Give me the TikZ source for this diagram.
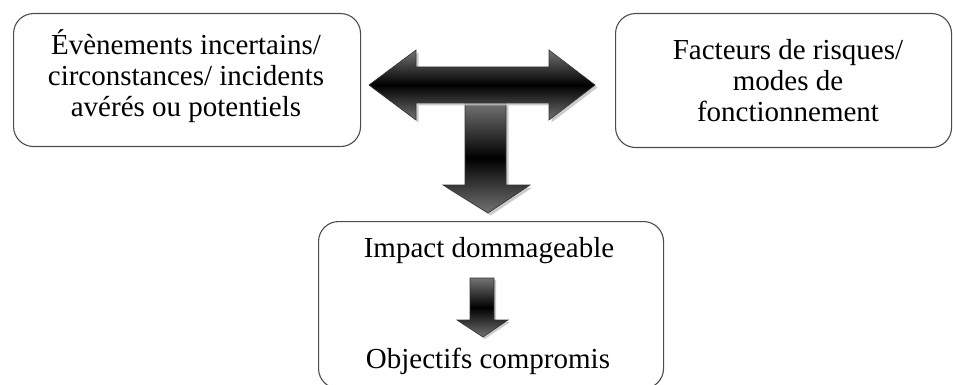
\documentclass[tikz,border=0pt]{standalone}
\usepackage{fontspec}
\setmainfont{Liberation Serif}
\begin{document}
\begin{tikzpicture}[x=1pt,y=-1pt,
  box/.style={draw=black!70, line width=1.1pt, rounded corners=20pt, anchor=north west, inner sep=0pt},
  lbl/.style={align=center, font=\fontsize{29}{31}\selectfont, text=black, inner sep=0pt},
  arrowfill/.style={draw=black!80, line width=0.6pt, top color=black!55, bottom color=black!55, middle color=black},
  shadowfill/.style={fill=black!25, opacity=0.8}]
\useasboundingbox (0,0) rectangle (953,385);
% boxes
\node[box, minimum width=347pt, minimum height=133pt] (ev) at (13,13) {};
\node[box, minimum width=336pt, minimum height=134pt] (fr) at (615,13) {};
\node[box, minimum width=345pt, minimum height=167pt] (im) at (318,221) {};
% texts
\node[lbl] (evt) at (186,76) {Évènements incertains/\\circonstances/ incidents\\avérés ou potentiels};
\node[lbl] (frt) at (788,81) {Facteurs de risques/\\modes de\\fonctionnement};
\node[lbl] (imt) at (489,251) {Impact dommageable};
\node[lbl] (obt) at (488,361) {Objectifs compromis};
% down arrow (big)
\fill[shadowfill, shift={(2.5,2.5)}] (465,103) -- (506,103) -- (506,185) -- (530,185) -- (488,213) -- (443,185) -- (465,185) -- cycle;
\shade[arrowfill] (465,103) -- (506,103) -- (506,185) -- (530,185) -- (488,213) -- (443,185) -- (465,185) -- cycle;
% double arrow
\fill[shadowfill, shift={(2.5,2.5)}] (369,85) -- (416,50) -- (416,67) -- (549,67) -- (549,50) -- (595,85) -- (549,120) -- (549,103) -- (416,103) -- (416,120) -- cycle;
\shade[arrowfill] (369,85) -- (416,50) -- (416,67) -- (549,67) -- (549,50) -- (595,85) -- (549,120) -- (549,103) -- (416,103) -- (416,120) -- cycle;
% small arrow
\fill[shadowfill, shift={(2,2)}] (470,278) -- (494,278) -- (494,320) -- (508,320) -- (483,337) -- (457,320) -- (470,320) -- cycle;
\shade[arrowfill] (470,278) -- (494,278) -- (494,320) -- (508,320) -- (483,337) -- (457,320) -- (470,320) -- cycle;
\end{tikzpicture}
\end{document}
